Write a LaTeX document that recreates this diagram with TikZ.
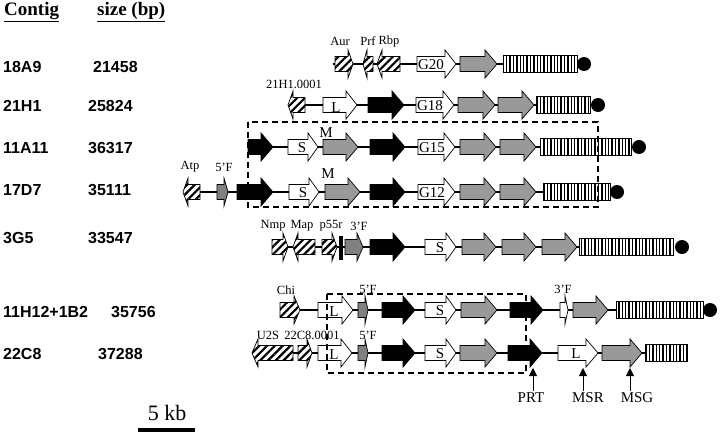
\documentclass[tikz,border=0pt]{standalone}
\usepackage{fontspec}
\setmainfont{Liberation Serif}
\setsansfont{Liberation Sans}
\usetikzlibrary{patterns.meta,arrows.meta}
\definecolor{genegray}{gray}{0.6}
\definecolor{fgray}{gray}{0.5}
% gene arrows: x1, x2, y, head length, style
\newcommand{\gR}[5]{\draw[#5] (#1,#3-7.5) -- (#2-#4,#3-7.5) -- (#2-#4,#3-14) -- (#2,#3) -- (#2-#4,#3+14) -- (#2-#4,#3+7.5) -- (#1,#3+7.5) -- cycle;}
\newcommand{\gL}[5]{\draw[#5] (#2,#3-7.5) -- (#1+#4,#3-7.5) -- (#1+#4,#3-14) -- (#1,#3) -- (#1+#4,#3+14) -- (#1+#4,#3+7.5) -- (#2,#3+7.5) -- cycle;}
\newcommand{\rpt}[3]{\draw[strp] (#1,#3-8.5) rectangle (#2,#3+8.5);}

\begin{document}
\begin{tikzpicture}[x=1pt,y=-1pt,
    bb/.style={line width=1.4pt},
    wht/.style={fill=white,line width=.7pt},
    gry/.style={fill=genegray,line width=.7pt},
    blk/.style={fill=black,line width=.7pt},
    fgr/.style={fill=fgray,line width=.7pt},
    hat/.style={preaction={fill=white},pattern={Lines[angle=45,distance=5.5pt,line width=2.2pt]},line width=.7pt},
    strp/.style={preaction={fill=white},pattern={Lines[angle=90,distance=3.4pt,line width=1.4pt]},line width=.8pt},
    dbox/.style={line width=1.4pt,dash pattern=on 6pt off 4pt},
    lbl/.style={font=\fontsize{15}{15}\selectfont,inner sep=0pt},
    sml/.style={font=\fontsize{12.5}{13}\selectfont,inner sep=0pt},
    cname/.style={font=\sffamily\bfseries\fontsize{16}{16}\selectfont,anchor=west,inner sep=0pt},
    pointer/.style={-{Triangle[width=8pt,length=8pt]},line width=.8pt}]
\useasboundingbox (0,0) rectangle (720,434);

% header and contig list
\node[anchor=west,inner sep=0pt,font=\bfseries\fontsize{19}{19}\selectfont] (hcontig) at (4,12) {\underline{Contig}};
\node[anchor=west,inner sep=0pt,font=\bfseries\fontsize{19}{19}\selectfont] (hsize) at (97,12) {\underline{size (bp)}};
\node[cname] (c1) at (3,67) {18A9};        \node[cname] (s1) at (93,67) {21458};
\node[cname] (c2) at (3,106) {21H1};       \node[cname] (s2) at (88,106) {25824};
\node[cname] (c3) at (3,148) {11A11};      \node[cname] (s3) at (88,148) {36317};
\node[cname] (c4) at (3,190) {17D7};       \node[cname] (s4) at (88,190) {35111};
\node[cname] (c5) at (3,238) {3G5};        \node[cname] (s5) at (88,238) {33547};
\node[cname] (c6) at (3,312) {11H12+1B2};  \node[cname] (s6) at (111,312) {35756};
\node[cname] (c7) at (3,354) {22C8};       \node[cname] (s7) at (98,354) {37288};

% 18A9
\draw[bb] (333,64) -- (503,64);
\gR{335}{353}{64}{5}{hat}
\gL{363}{373}{64}{4}{hat}
\gL{377}{400}{64}{5}{hat}
\gR{417}{456}{64}{11}{wht}
\gR{460}{497}{64}{12}{gry}
\rpt{503}{577}{64}
\fill (584,64) circle (7);
\node[sml] (aur) at (340,41) {Aur};
\node[sml] (prf) at (368,41) {Prf};
\node[sml] (rbp) at (389,41) {Rbp};
\node[lbl] (g20) at (431,65) {G20};

% 21H1
\draw[bb] (288,105) -- (536,105);
\gL{288}{305}{105}{5}{hat}
\gR{323}{357}{105}{11}{wht}
\gR{368}{404}{105}{12}{blk}
\gR{416}{454}{105}{11}{wht}
\gR{458}{495}{105}{12}{gry}
\gR{498}{534}{105}{12}{gry}
\rpt{536}{590}{105}
\fill (598,105) circle (7);
\node[sml] (h1) at (294,84) {21H1.0001};
\node[lbl] (l21) at (336,108) {L};
\node[lbl] (g18) at (430,106) {G18};

% 11A11
\draw[bb] (248,147) -- (540,147);
\gR{248}{273}{147}{12}{blk}
\gR{288}{318}{147}{10}{wht}
\gR{323}{358}{147}{12}{gry}
\gR{370}{405}{147}{12}{blk}
\gR{418}{455}{147}{11}{wht}
\gR{460}{496}{147}{12}{gry}
\gR{500}{536}{147}{12}{gry}
\rpt{540}{631}{147}
\fill (639,147) circle (7);
\node[lbl] (s11) at (302,148) {S};
\node[lbl] (m11) at (326,133) {M};
\node[lbl] (g15) at (432,148) {G15};

% 17D7
\draw[bb] (183,192) -- (543,192);
\gL{183}{200}{192}{5}{hat}
\gR{217}{228}{192}{4}{fgr}
\gR{237}{273}{192}{12}{blk}
\gR{289}{319}{192}{10}{wht}
\gR{325}{360}{192}{12}{gry}
\gR{370}{405}{192}{12}{blk}
\gR{418}{455}{192}{11}{wht}
\gR{460}{496}{192}{12}{gry}
\gR{500}{536}{192}{12}{gry}
\rpt{543}{610}{192}
\fill (617,192) circle (7);
\node[sml] (atp) at (190,167) {Atp};
\node[sml] (f17) at (224,167) {5'F};
\node[lbl] (s17) at (303,193) {S};
\node[lbl] (m17) at (328,174) {M};
\node[lbl] (g12) at (432,193) {G12};

% 3G5
\draw[bb] (272,247) -- (579,247);
\gR{272}{288}{247}{5}{hat}
\gL{293}{315}{247}{5}{hat}
\gR{322}{337}{247}{5}{hat}
\draw[line width=3.5pt] (341,236) -- (341,260);
\gR{345}{363}{247}{6}{fgr}
\gR{370}{405}{247}{12}{blk}
\gR{425}{456}{247}{10}{wht}
\gR{462}{496}{247}{12}{gry}
\gR{502}{536}{247}{12}{gry}
\gR{542}{577}{247}{12}{gry}
\rpt{579}{673}{247}
\fill (682,247) circle (7);
\node[sml] (nmp) at (273,226) {Nmp};
\node[sml] (map) at (302,226) {Map};
\node[sml] (p55) at (331,226) {p55r};
\node[sml] (f3g) at (359,226) {3'F};
\node[lbl] (s3g) at (440,248) {S};

% 11H12+1B2
\draw[bb] (280,310) -- (616,310);
\gR{280}{300}{310}{6}{hat}
\gR{318}{353}{310}{11}{wht}
\gR{358}{368}{310}{3}{fgr}
\gR{382}{415}{310}{12}{blk}
\gR{425}{456}{310}{10}{wht}
\gR{461}{497}{310}{12}{gry}
\gR{510}{543}{310}{12}{blk}
\gR{560}{568}{310}{3}{wht}
\gR{573}{608}{310}{12}{gry}
\rpt{616}{703}{310}
\fill (710,310) circle (7);
\node[sml] (chi) at (286,290) {Chi};
\node[sml] (f6a) at (368,289) {5'F};
\node[sml] (f6b) at (563,289) {3'F};
\node[lbl] (l6) at (334,312) {L};
\node[lbl] (s6g) at (440,311) {S};

% 22C8
\draw[bb] (252,353) -- (645,353);
\gL{252}{293}{353}{6}{hat}
\gR{298}{312}{353}{5}{hat}
\gR{318}{352}{353}{11}{wht}
\gR{358}{368}{353}{3}{fgr}
\gR{382}{415}{353}{12}{blk}
\gR{425}{456}{353}{10}{wht}
\gR{460}{497}{353}{12}{gry}
\gR{508}{542}{353}{12}{blk}
\gR{558}{598}{353}{12}{wht}
\gR{602}{642}{353}{12}{gry}
\rpt{645}{687}{353}
\node[sml] (u2s) at (268,335) {U2S};
\node[sml] (c8) at (312,335) {22C8.0001};
\node[sml] (f7) at (368,335) {5'F};
\node[lbl] (l7a) at (334,355) {L};
\node[lbl] (s7g) at (440,354) {S};
\node[lbl] (l7b) at (576,354) {L};

% dashed boxes
\draw[dbox] (248,122) rectangle (598,207);
\draw[dbox] (327,294) rectangle (526,373);

% markers
\node[lbl] (prt) at (531,398) {PRT};
\node[lbl] (msr) at (588,398) {MSR};
\node[lbl] (msg) at (637,398) {MSG};
\coordinate (tprt) at (533,368);
\coordinate (tmsr) at (583,368);
\coordinate (tmsg) at (630,368);
\draw[pointer] (prt.north -| tprt) ++(0,-2) -- (tprt);
\draw[pointer] (msr.north -| tmsr) ++(0,-2) -- (tmsr);
\draw[pointer] (msg.north -| tmsg) ++(0,-2) -- (tmsg);

% scale
\node[font=\fontsize{22}{22}\selectfont,inner sep=0pt] (kb) at (167,413) {5 kb};
\draw[line width=4pt] (138,430) -- (195,430);
\end{tikzpicture}
\end{document}
